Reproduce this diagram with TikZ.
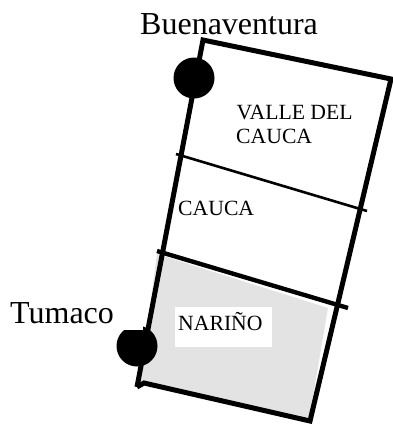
\documentclass[tikz,border=0pt]{standalone}
\usepackage{fontspec}
\setmainfont{Liberation Serif}
\tikzset{
  bigtext/.style={inner sep=0pt,anchor=base west,font=\fontsize{32}{36}\selectfont,text=black},
  smalltext/.style={inner sep=0pt,anchor=base west,font=\fontsize{21.7}{24}\selectfont,text=black},
  heavy/.style={line width=5pt,line cap=butt,line join=miter},
  thinline/.style={line width=2.6pt}
}
\begin{document}
\begin{tikzpicture}[x=1pt,y=-1pt]
\useasboundingbox (0,0) rectangle (393,426);
\coordinate (tl) at (203,40);
\coordinate (tr) at (391,79);
\coordinate (br) at (310,421);
\coordinate (bl) at (137,387);
\coordinate (bb) at (144,383);
\coordinate (tla) at (176,154);
\coordinate (tlb) at (367,211);
\coordinate (ml) at (157,251);
\coordinate (mr) at (348,308);
% grey area
\fill[black!11] (157,254) -- (328,308) -- (309,420) -- (140,383) -- cycle;
\fill[white] (175,307) rectangle (272,347);
% outline
\draw[heavy] (bl) -- (tl) -- (tr) -- (br) -- (bb) -- (bl);
\draw[thinline] (tla) -- (tlb);
\draw[line width=4.4pt] (ml) -- (mr);
% towns
\node[circle,fill=black,inner sep=0pt,minimum size=41pt] (buena) at (194,78) {};
\begin{scope}
\clip (100,330) -- (143,330) -- (143,300) -- (180,300) -- (180,380) -- (100,380) -- cycle;
\node[circle,fill=black,inner sep=0pt,minimum size=41pt] (tuma) at (137,346) {};
\end{scope}
% labels
\node[bigtext] (lb) at (140,34) {Buenaventura};
\node[bigtext] (lt) at (10,323) {Tumaco};
\node[smalltext] (lv) at (236.5,119) {VALLE DEL};
\node[smalltext] (lv2) at (236,143) {CAUCA};
\node[smalltext] (lc) at (178,215) {CAUCA};
\node[smalltext] (ln) at (178,330) {NARIÑO};
\end{tikzpicture}
\end{document}
